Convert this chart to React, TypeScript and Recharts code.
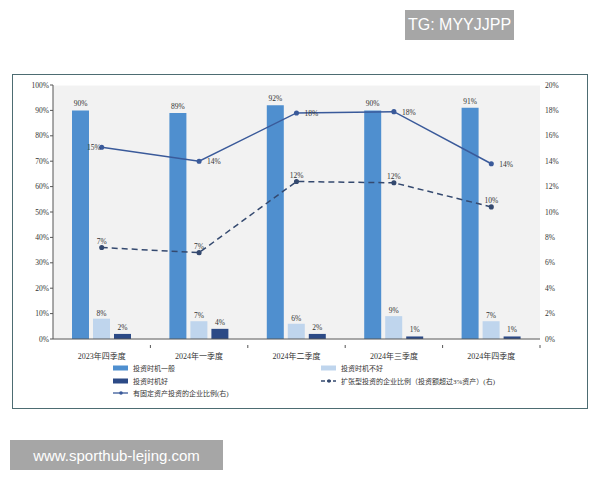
import {
  ComposedChart, Bar, Line, XAxis, YAxis, CartesianGrid, LabelList,
} from 'recharts'

const quarters = ['2023年四季度', '2024年一季度', '2024年二季度', '2024年三季度', '2024年四季度']
const normalTiming = [90, 89, 92, 90, 91]
const badTiming = [8, 7, 6, 9, 7]
const goodTiming = [2, 4, 2, 1, 1]
const fixedInvestShare = [15.1, 14.0, 17.8, 17.9, 13.8]
const expansionShare = [7.2, 6.8, 12.4, 12.3, 10.4]
const leftTicks = [0, 10, 20, 30, 40, 50, 60, 70, 80, 90, 100]
const rightTicks = [0, 2, 4, 6, 8, 10, 12, 14, 16, 18, 20]

const data = quarters.map((q, i) => ({
  q,
  normal: normalTiming[i],
  bad: badTiming[i],
  good: goodTiming[i],
  fixed: fixedInvestShare[i],
  expansion: expansionShare[i],
}))

const C_NORMAL = '#4f8fcf'
const C_BAD = '#bfd5ed'
const C_GOOD = '#2c4a86'
const C_FIXED = '#3a5a9a'
const C_EXP = '#34496f'
const SERIF = "'Liberation Serif', 'Noto Sans CJK SC', serif"

const CHART_W = 574
const CHART_H = 333
const LEFT_W = 40
const RIGHT_W = 47

const pct = (v: any) => `${Math.round(Number(v))}%`

// category label plus a small tick on the boundary between quarters
const XTick = (props: any) => {
  const { x, y, payload } = props
  const half = (CHART_W - LEFT_W - RIGHT_W) / quarters.length / 2
  return (
    <g>
      <line x1={x + half} x2={x + half} y1={y - 2} y2={y + 1} stroke="#555" />
      <text x={x} y={y + 12} textAnchor="middle" fontSize={8} fill="#333" fontFamily={SERIF}>
        {payload.value}
      </text>
    </g>
  )
}

const FixedLabel = (props: any) => {
  const { x, y, value, index } = props
  const first = index === 0
  return (
    <text
      x={first ? x - 1 : x + 8}
      y={y + 3}
      textAnchor={first ? 'end' : 'start'}
      fontSize={7.5}
      fill="#333"
      fontFamily={SERIF}
    >
      {pct(value)}
    </text>
  )
}

const LegendItem = ({ kind, color, label }: { kind: 'bar' | 'line' | 'dash'; color: string; label: string }) => (
  <div style={{ display: 'flex', alignItems: 'center', height: 12.5 }}>
    <svg width={16} height={8} style={{ marginRight: 4 }}>
      {kind === 'bar' && <rect x={0} y={1.5} width={15} height={5} fill={color} />}
      {kind !== 'bar' && (
        <>
          <line x1={0} x2={15} y1={4} y2={4} stroke={color} strokeWidth={1.3}
            strokeDasharray={kind === 'dash' ? '4 2' : undefined} />
          <circle cx={8} cy={4} r={1.8} fill={color} />
        </>
      )}
    </svg>
    <span style={{ fontSize: 7, color: '#333', fontFamily: SERIF, whiteSpace: 'nowrap' }}>{label}</span>
  </div>
)

export default function App() {
  return (
    <div style={{ position: 'fixed', left: 0, top: 0, width: 600, height: 480, background: '#fff' }}>
      <div style={{
        position: 'absolute', left: 405, top: 10, width: 109, height: 30, background: '#a6a6a6',
        color: '#fff', fontFamily: "'Liberation Sans', Arial, sans-serif", fontSize: 16,
        display: 'flex', alignItems: 'center', justifyContent: 'center',
      }}>TG: MYYJJPP</div>

      <div style={{
        position: 'absolute', left: 12, top: 74, width: CHART_W, height: CHART_H,
        border: '1.5px solid #4d6c72', background: '#fff',
      }}>
        <ComposedChart
          width={CHART_W}
          height={CHART_H}
          data={data}
          margin={{ top: 10, right: 0, left: 0, bottom: 0 }}
          barSize={17}
          barGap={4}
        >
          <CartesianGrid fill="#f2f2f2" stroke="#ffffff" vertical={false} />
          <XAxis
            dataKey="q"
            height={69}
            tick={<XTick />}
            tickLine={false}
            axisLine={{ stroke: '#555' }}
            interval={0}
          />
          <YAxis
            yAxisId="left"
            width={LEFT_W}
            domain={[0, 100]}
            ticks={leftTicks}
            tickFormatter={(v) => `${v}%`}
            tick={{ fontSize: 7.5, fill: '#333', fontFamily: SERIF }}
            tickSize={3}
            tickMargin={1}
            axisLine={{ stroke: '#555' }}
            tickLine={{ stroke: '#555' }}
          />
          <YAxis
            yAxisId="right"
            orientation="right"
            width={RIGHT_W}
            domain={[0, 20]}
            ticks={rightTicks}
            tickFormatter={(v) => `${v}%`}
            tick={{ fontSize: 7.5, fill: '#333', fontFamily: SERIF, textAnchor: 'start' }}
            tickSize={0}
            tickMargin={5}
            axisLine={false}
            tickLine={false}
          />
          <Bar yAxisId="left" dataKey="normal" fill={C_NORMAL} isAnimationActive={false}>
            <LabelList dataKey="normal" position="top" offset={4} formatter={pct}
              style={{ fontSize: 7.5, fill: '#333', fontFamily: SERIF }} />
          </Bar>
          <Bar yAxisId="left" dataKey="bad" fill={C_BAD} isAnimationActive={false}>
            <LabelList dataKey="bad" position="top" offset={3} formatter={pct}
              style={{ fontSize: 7.5, fill: '#333', fontFamily: SERIF }} />
          </Bar>
          <Bar yAxisId="left" dataKey="good" fill={C_GOOD} isAnimationActive={false}>
            <LabelList dataKey="good" position="top" offset={4} formatter={pct}
              style={{ fontSize: 7.5, fill: '#333', fontFamily: SERIF }} />
          </Bar>
          <Line
            yAxisId="right"
            dataKey="fixed"
            stroke={C_FIXED}
            strokeWidth={1.5}
            dot={{ r: 1.8, fill: C_FIXED, stroke: C_FIXED }}
            isAnimationActive={false}
          >
            <LabelList dataKey="fixed" content={<FixedLabel />} />
          </Line>
          <Line
            yAxisId="right"
            dataKey="expansion"
            stroke={C_EXP}
            strokeWidth={1.5}
            strokeDasharray="6 4"
            dot={{ r: 1.8, fill: C_EXP, stroke: C_EXP, strokeDasharray: '0' }}
            isAnimationActive={false}
          >
            <LabelList dataKey="expansion" position="top" offset={4} formatter={pct}
              style={{ fontSize: 7.5, fill: '#333', fontFamily: SERIF }} />
          </Line>
        </ComposedChart>

        <div style={{ position: 'absolute', left: 100, top: 287 }}>
          <LegendItem kind="bar" color={C_NORMAL} label="投资时机一般" />
          <LegendItem kind="bar" color={C_GOOD} label="投资时机好" />
          <LegendItem kind="line" color={C_FIXED} label="有固定资产投资的企业比例(右)" />
        </div>
        <div style={{ position: 'absolute', left: 308, top: 287 }}>
          <LegendItem kind="bar" color={C_BAD} label="投资时机不好" />
          <LegendItem kind="dash" color={C_EXP} label="扩张型投资的企业比例（投资额超过3%资产）(右)" />
        </div>
      </div>

      <div style={{
        position: 'absolute', left: 10, top: 440, width: 213, height: 30, background: '#a6a6a6',
        color: '#fff', fontFamily: "'Liberation Sans', Arial, sans-serif", fontSize: 15,
        display: 'flex', alignItems: 'center', justifyContent: 'center',
      }}>www.sporthub-lejing.com</div>
    </div>
  )
}
